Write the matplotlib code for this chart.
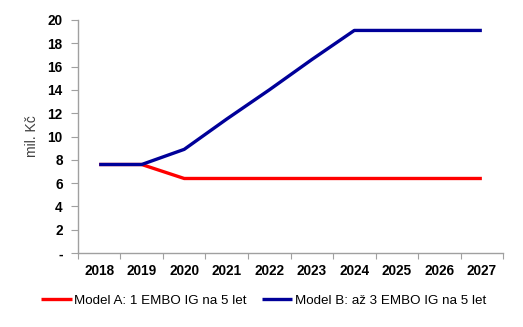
import matplotlib
matplotlib.use("Agg")
import matplotlib.pyplot as plt
from matplotlib.ticker import FixedLocator, NullFormatter, FuncFormatter

years = ["2018", "2019", "2020", "2021", "2022", "2023", "2024", "2025", "2026", "2027"]
model_a = [7.6, 7.6, 6.4, 6.4, 6.4, 6.4, 6.4, 6.4, 6.4, 6.4]
model_b = [7.6, 7.6, 8.9, 11.5, 14.0, 16.6, 19.1, 19.1, 19.1, 19.1]
label_a = "Model A: 1 EMBO IG na 5 let"
label_b = "Model B: až 3 EMBO IG na 5 let"
y_label = "mil. Kč"
y_ticks = [0, 2, 4, 6, 8, 10, 12, 14, 16, 18, 20]

plt.rcParams["font.family"] = ["Liberation Sans", "DejaVu Sans"]

fig = plt.figure(figsize=(5.23, 3.27), dpi=100)
ax = fig.add_axes([0.149, 0.226, 0.813, 0.713])

x = list(range(len(years)))
ax.plot(x, model_a, color="#FF0000", lw=2.4, label=label_a, solid_capstyle="butt")
ax.plot(x, model_b, color="#000099", lw=2.4, label=label_b, solid_capstyle="butt")

ax.set_xlim(-0.5, len(years) - 0.5)
ax.set_ylim(0, 20)

# category labels centred, tick marks on the boundaries
ax.xaxis.set_major_locator(FixedLocator([i - 0.5 for i in range(len(years) + 1)]))
ax.xaxis.set_major_formatter(NullFormatter())
ax.xaxis.set_minor_locator(FixedLocator(x))
ax.set_xticklabels(years, minor=True)
ax.tick_params(axis="x", which="minor", length=0, pad=8, labelsize=9.8)
ax.tick_params(axis="x", which="major", length=4, color="#A0A0A0", direction="out")
for t in ax.get_xticklabels(minor=True):
    t.set_fontweight("bold")

ax.set_yticks(y_ticks)
ax.yaxis.set_major_formatter(FuncFormatter(lambda v, p: "-" if v == 0 else f"{int(v)}"))
ax.tick_params(axis="y", length=5, color="#A0A0A0", direction="out", labelsize=9.8, pad=6)
for t in ax.get_yticklabels():
    t.set_fontweight("bold")

for s in ("top", "right"):
    ax.spines[s].set_visible(False)
for s in ("left", "bottom"):
    ax.spines[s].set_color("#A0A0A0")
    ax.spines[s].set_linewidth(1.0)

ax.set_ylabel(y_label, fontsize=10, color="#404040", labelpad=6)

fig.legend(loc="center", bbox_to_anchor=(0.504, 0.08), ncol=2, frameon=False,
           fontsize=9.6, handlelength=2.3, handletextpad=0.2, columnspacing=1.1)

fig.savefig("out.png", dpi=100)
